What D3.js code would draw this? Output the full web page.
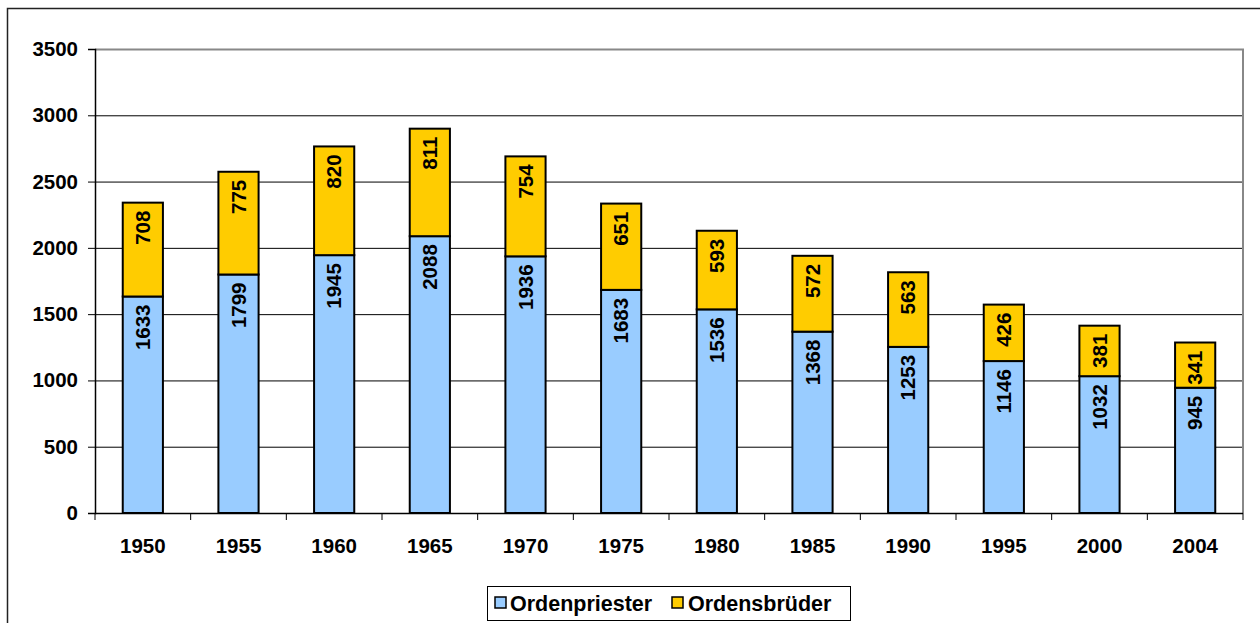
<!DOCTYPE html>
<html><head><meta charset="utf-8">
<script src="https://cdn.jsdelivr.net/npm/d3@7"></script>
<style>body{margin:0;background:#fff}svg{display:block;font-family:"Liberation Sans",Arial,sans-serif}</style>
</head><body>
<svg id="c" width="1260" height="623"></svg>
<script>
const years = ["1950","1955","1960","1965","1970","1975","1980","1985","1990","1995","2000","2004"];
const priester = [1633,1799,1945,2088,1936,1683,1536,1368,1253,1146,1032,945];
const brueder = [708,775,820,811,754,651,593,572,563,426,381,341];
const yTicks = [0,500,1000,1500,2000,2500,3000,3500];
const seriesNames = ["Ordenpriester","Ordensbrüder"];
const colors = ["#99CCFF","#FFCC00"];

const FS = 20.5;
const svg = d3.select("#c");
const L=95, R=1243, T=49, B=513;
svg.append("rect").attr("x",7.5).attr("y",8.5).attr("width",1300).attr("height",700)
  .attr("fill","none").attr("stroke","#222").attr("stroke-width",1.5);

const x = d3.scaleBand().domain(years).range([L,R]).paddingInner(0.58).paddingOuter(0.29);
const y = d3.scaleLinear().domain([0,3500]).range([B,T]);

svg.append("g").selectAll("line").data(yTicks.filter(d=>d>0&&d<3500)).join("line")
  .attr("x1",L).attr("x2",R).attr("y1",d=>y(d)+0.5).attr("y2",d=>y(d)+0.5)
  .attr("stroke","#000").attr("stroke-width",1);
svg.append("path").attr("d",`M${L},${T+0.5}H${R}V${B}`).attr("fill","none").attr("stroke","#888").attr("stroke-width",2);

const ya = svg.append("g").attr("transform",`translate(${L},0)`)
  .call(d3.axisLeft(y).tickValues(yTicks).tickSize(7).tickPadding(10).tickFormat(d3.format("d")));
ya.attr("font-size",null).attr("font-family",null);
ya.select(".domain").attr("stroke","#000").attr("stroke-width",1.5);
ya.selectAll(".tick line").attr("stroke","#000");
ya.selectAll("text").attr("font-size",FS).attr("font-weight","bold").attr("fill","#000");

const xa = svg.append("g").attr("transform",`translate(0,${B})`);
xa.append("line").attr("x1",L).attr("x2",R).attr("y1",0.5).attr("y2",0.5).attr("stroke","#000").attr("stroke-width",1.5);
const step = x.step();
xa.selectAll("line.t").data(d3.range(years.length+1)).join("line").attr("class","t")
  .attr("x1",i=>L+i*step).attr("x2",i=>L+i*step).attr("y1",0).attr("y2",7).attr("stroke","#000");
xa.selectAll("text").data(years).join("text")
  .attr("x",d=>x(d)+x.bandwidth()/2).attr("y",40).attr("text-anchor","middle")
  .attr("font-size",FS).attr("font-weight","bold").text(d=>d);

const data = years.map((yr,i)=>({yr, p:priester[i], b:brueder[i]}));
const g = svg.append("g");
data.forEach(d=>{
  const segs=[{v0:0,v1:d.p,c:colors[0]},{v0:d.p,v1:d.p+d.b,c:colors[1]}];
  segs.forEach(s=>{
    g.append("rect").attr("x",x(d.yr)).attr("width",x.bandwidth())
      .attr("y",y(s.v1)).attr("height",y(s.v0)-y(s.v1))
      .attr("fill",s.c).attr("stroke","#000").attr("stroke-width",2);
  });
});
data.forEach(d=>{
  const segs=[{v1:d.p,val:d.p},{v1:d.p+d.b,val:d.b}];
  segs.forEach(s=>{
    const cx=x(d.yr)+x.bandwidth()/2, ty=y(s.v1)+8;
    g.append("text").attr("transform",`translate(${cx+7},${ty}) rotate(-90)`)
      .attr("text-anchor","end").attr("font-size",FS).attr("font-weight","bold").text(s.val);
  });
});

const lg = svg.append("g");
lg.append("rect").attr("x",487.5).attr("y",586.5).attr("width",363).attr("height",34).attr("fill","#fff").attr("stroke","#000").attr("stroke-width",1);
const items=[{n:seriesNames[0],c:colors[0],x:495,tx:510},{n:seriesNames[1],c:colors[1],x:672,tx:688}];
items.forEach(it=>{
  lg.append("rect").attr("x",it.x).attr("y",597).attr("width",11).attr("height",11).attr("fill",it.c).attr("stroke","#000").attr("stroke-width",1.5);
  lg.append("text").attr("x",it.tx).attr("y",611).attr("font-size",21.5).attr("font-weight","bold").text(it.n);
});
</script>
</body></html>
